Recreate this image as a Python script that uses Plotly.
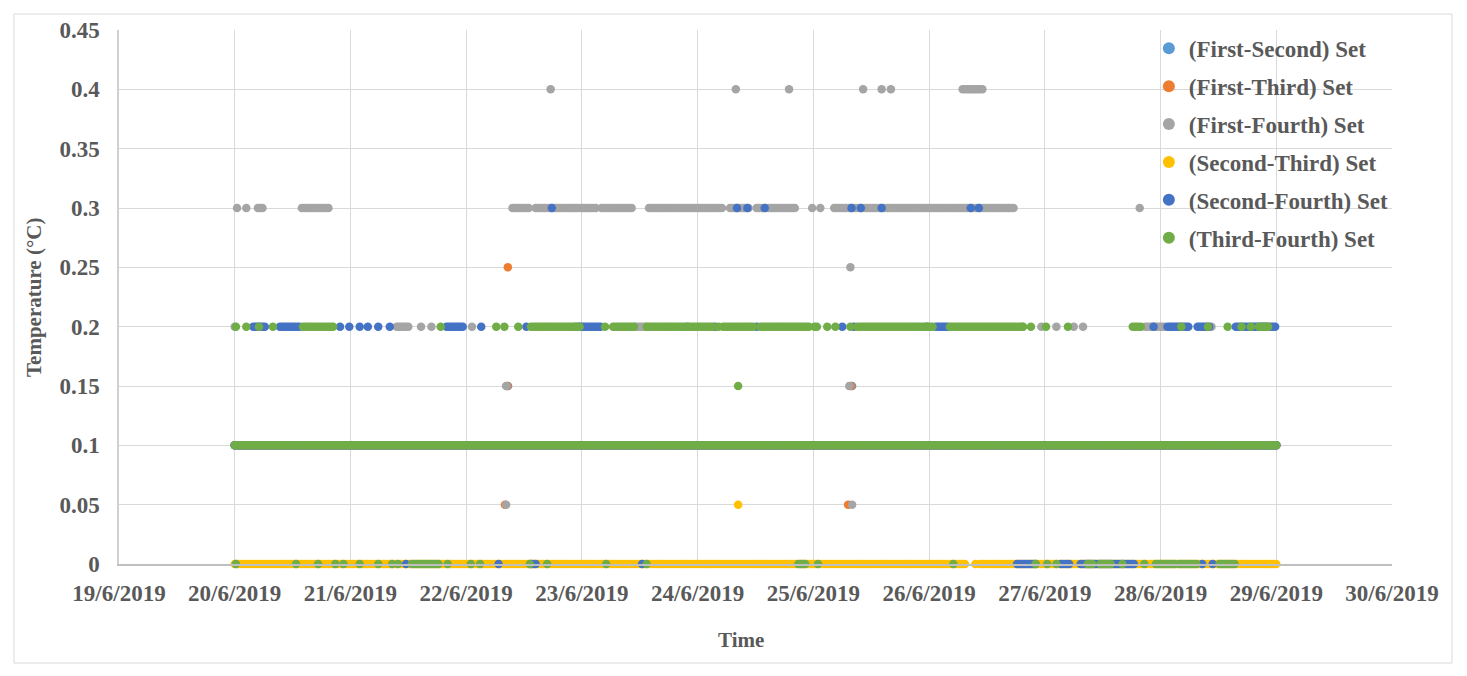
"""
센서 세트 간 온도 차이 산점도 (19/6/2019 ~ 30/6/2019)
"""
import numpy as np
import pandas as pd
import plotly.graph_objects as go

# 기록 간격 (분) - 구간(run)을 측정값으로 펼칠 때 사용
STEP_MIN = 30

# 시간은 6월의 일(day) 단위 소수로 기록 (20.5 = 20/6 12:00)
# 각 목록: 구간 [시작, 끝] 또는 단일 측정 시각

# (First-Second) Set - 다른 세트에 가려 거의 보이지 않음
FS_010 = [[20.0, 29.0]]
FS_015 = [22.362, 25.335]

# (First-Third) Set
FT_010 = [[20.0, 29.0]]
FT_025 = [22.36]
FT_015 = [22.355, 25.325]
FT_005 = [22.335, 25.30]

# (First-Fourth) Set
FF_010 = [[20.0, 29.0]]
FF_040 = [22.73, 24.33, 24.79, 25.43, 25.59, 25.67, [26.29, 26.46]]
FF_030 = [20.02, 20.10, [20.20, 20.24], [20.58, 20.81], [22.40, 22.54],
          [22.60, 22.97], [23.00, 23.12], [23.17, 23.43], [23.58, 24.21],
          [24.28, 24.44], [24.51, 24.84], 24.99, 25.06, [25.18, 26.73], 27.82]
FF_025 = [25.32]
FF_020 = [20.0, [21.40, 21.50], 21.61, 21.70, 22.05, 22.94, [23.46, 23.55],
          26.81, 26.97, 27.10, 27.25, 27.33, [27.87, 28.03], 28.44]
FF_015 = [22.345, 25.31]
FF_005 = [22.345, 25.335]

# (Second-Third) Set
ST_000 = [[20.0, 26.31], 26.40, [26.44, 29.0]]
ST_010 = [[26.33, 26.38], 26.42]
ST_005 = [24.35]

# (Second-Fourth) Set
SF_010 = [[20.0, 29.0]]
SF_030 = [22.74, 24.34, 24.43, 24.58, 25.33, 25.41, 25.59, 26.36, 26.43]
SF_020 = [[20.16, 20.26], [20.39, 20.56], 20.91, 20.99, 21.08, 21.15, 21.24,
          21.34, [21.83, 21.97], 22.13, 22.52, [22.97, 23.16], 23.91, 24.15,
          24.51, 25.25, 25.35, 25.98, [26.06, 26.16], 27.94, [28.06, 28.24],
          [28.32, 28.42], [28.65, 28.99]]
SF_000 = [21.48, 22.28, [22.56, 22.60], 23.52, [26.76, 26.92], [27.14, 27.21],
          [27.31, 27.77], 28.36, 28.45]

# (Third-Fourth) Set
TF_010 = [[20.0, 29.0]]
TF_020 = [20.01, 20.10, 20.21, 20.33, [20.59, 20.85], 21.78, 22.26, 22.33,
          22.45, [22.56, 22.98], 23.20, [23.27, 23.45], [23.56, 23.89],
          [23.92, 24.13], 24.18, [24.22, 24.48], [24.54, 24.96],
          [25.01, 25.03], 25.12, 25.19, 25.32, [25.38, 25.95], [25.97, 26.03],
          [26.18, 26.81], 26.88, 27.01, 27.20, [27.76, 27.83], 28.18, 28.41,
          28.58, 28.70, 28.78, [28.85, 28.93]]
TF_015 = [24.35]
TF_000 = [20.01, 20.53, 20.72, 20.87, 20.94, 21.08, 21.24, 21.36, 21.41,
          [21.53, 21.76], 21.84, 22.04, 22.12, 22.55, 22.70, 23.21, 23.56,
          [24.87, 24.93], 25.04, 26.21, 26.92, 27.02, 27.10, [27.37, 27.41],
          [27.48, 27.57], 27.67, 27.86, [27.96, 28.12], [28.16, 28.31],
          [28.51, 28.64]]

SERIES_NAMES = ["(First-Second) Set", "(First-Third) Set", "(First-Fourth) Set",
                "(Second-Third) Set", "(Second-Fourth) Set", "(Third-Fourth) Set"]
SERIES_COLORS = ["#5B9BD5", "#ED7D31", "#A5A5A5", "#FFC000", "#4472C4", "#70AD47"]
SERIES_LEVELS = [
    [(0.10, FS_010), (0.15, FS_015)],
    [(0.10, FT_010), (0.25, FT_025), (0.15, FT_015), (0.05, FT_005)],
    [(0.10, FF_010), (0.40, FF_040), (0.30, FF_030), (0.25, FF_025),
     (0.20, FF_020), (0.15, FF_015), (0.05, FF_005)],
    [(0.00, ST_000), (0.10, ST_010), (0.05, ST_005)],
    [(0.10, SF_010), (0.30, SF_030), (0.20, SF_020), (0.00, SF_000)],
    [(0.10, TF_010), (0.20, TF_020), (0.15, TF_015), (0.00, TF_000)],
]

X_RANGE = ["2019-06-19", "2019-06-30"]
Y_TICKS = [0, 0.05, 0.1, 0.15, 0.2, 0.25, 0.3, 0.35, 0.4, 0.45]
Y_TICK_TEXT = ["0", "0.05", "0.1", "0.15", "0.2", "0.25", "0.3", "0.35", "0.4", "0.45"]

MONTH_BASE = pd.Timestamp("2019-05-31")
FONT = "Liberation Serif, Times New Roman, serif"
TEXT_COLOR = "#595959"
GRID_COLOR = "#D9D9D9"


def expand(levels):
    """구간 목록을 기록 간격의 측정값(시각, 값)으로 펼침"""
    days, vals = [], []
    for value, runs in levels:
        for r in runs:
            a, b = (r, r) if isinstance(r, (int, float)) else r
            n = int(round((b - a) * 1440 / STEP_MIN))
            pts = np.linspace(a, b, n + 1) if n > 0 else [a]
            days.extend(pts)
            vals.extend([value] * len(pts))
    times = MONTH_BASE + pd.to_timedelta(np.array(days), unit="D")
    return times, vals


fig = go.Figure()

for name, color, levels in zip(SERIES_NAMES, SERIES_COLORS, SERIES_LEVELS):
    times, vals = expand(levels)
    fig.add_trace(go.Scatter(
        x=times,
        y=vals,
        mode="markers",
        name=name,
        legendgroup=name,
        marker=dict(color=color, size=8.5, line=dict(width=0)),
        cliponaxis=False,
    ))

# 페이지 본문 여백(8px)을 감안해 크기와 여백을 줄임
fig.update_layout(
    width=1459,
    height=668,
    paper_bgcolor="white",
    plot_bgcolor="white",
    margin=dict(l=111, r=75, t=22, b=112),
    font=dict(family=FONT, size=23, color=TEXT_COLOR, weight="bold"),
    showlegend=True,
    legend=dict(
        x=0.809, xanchor="left",
        y=1.006, yanchor="top",
        bgcolor="rgba(0,0,0,0)",
        font=dict(family=FONT, size=23, color=TEXT_COLOR, weight="bold"),
        tracegroupgap=5,
        itemsizing="constant",
    ),
    xaxis=dict(
        type="date",
        range=X_RANGE,
        dtick=86400000,
        tick0="2019-06-19",
        tickformat="%-d/%-m/%Y",
        showgrid=True,
        gridcolor=GRID_COLOR,
        gridwidth=1.3,
        showline=True,
        linecolor="#BFBFBF",
        linewidth=1.5,
        zeroline=False,
        ticks="",
        ticklabelstandoff=8,
        automargin=False,
        tickfont=dict(family=FONT, size=23, color=TEXT_COLOR, weight="bold"),
    ),
    yaxis=dict(
        range=[0, 0.45],
        tickvals=Y_TICKS,
        ticktext=Y_TICK_TEXT,
        showgrid=True,
        gridcolor=GRID_COLOR,
        gridwidth=1.3,
        showline=True,
        linecolor="#D0D0D0",
        linewidth=1.5,
        zeroline=False,
        ticks="",
        ticklabelstandoff=13,
        automargin=False,
        tickfont=dict(family=FONT, size=23, color=TEXT_COLOR, weight="bold"),
    ),
    shapes=[dict(
        type="rect", xref="paper", yref="paper",
        x0=-0.0825, x1=1.0471, y0=-0.1854, y1=1.03,
        line=dict(color="#D9D9D9", width=1),
        fillcolor="rgba(0,0,0,0)",
        layer="below",
    )],
    annotations=[
        dict(text="Temperature (°C)", xref="paper", yref="paper",
             x=-0.0668, y=0.5, textangle=-90, showarrow=False,
             xanchor="center", yanchor="middle",
             font=dict(family=FONT, size=21, color=TEXT_COLOR, weight="bold")),
        dict(text="Time", xref="paper", yref="paper",
             x=0.4886, y=-0.1423, showarrow=False,
             xanchor="center", yanchor="middle",
             font=dict(family=FONT, size=21, color=TEXT_COLOR, weight="bold")),
    ],
)

fig.write_html("out.html")
